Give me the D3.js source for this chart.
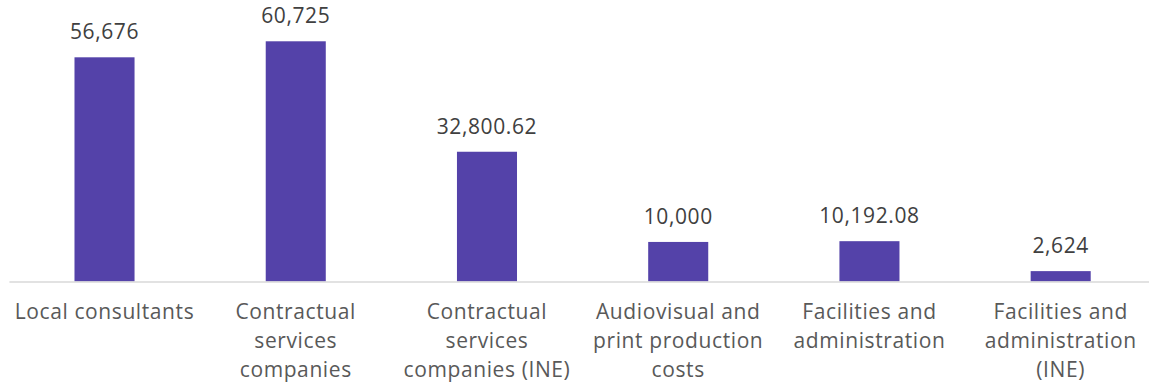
<!DOCTYPE html>
<html>
<head>
<meta charset="utf-8">
<script src="https://cdn.jsdelivr.net/npm/d3@7"></script>
<style>
  html, body { margin: 0; padding: 0; background: #ffffff; }
  svg { display: block; }
  text { font-family: "Open Sans", "Liberation Sans", sans-serif; }
</style>
</head>
<body>
<svg id="chart" width="1149" height="383"></svg>
<script>
// Budget lines and amounts
const categories = [
  "Local consultants",
  "Contractual services companies",
  "Contractual services companies (INE)",
  "Audiovisual and print production costs",
  "Facilities and administration",
  "Facilities and administration (INE)"
];
const amounts = [56676, 60725, 32800.62, 10000, 10192.08, 2624];
const amountLabels = ["56,676", "60,725", "32,800.62", "10,000", "10,192.08", "2,624"];
const yMax = 70000;

const width = 1149, height = 383;
const baseline = 281.5;
const svg = d3.select("#chart");

const x = d3.scaleBand()
  .domain(categories)
  .range([8.9, 1156.3])
  .padding(0);

const y = d3.scaleLinear()
  .domain([0, yMax])
  .range([baseline, 4.6]);

const barW = x.bandwidth() * 0.314;
const barColor = "#5442a9";

// bars
svg.append("g")
  .selectAll("rect")
  .data(amounts)
  .join("rect")
  .attr("x", (d, i) => x(categories[i]) + x.bandwidth() / 2 - barW / 2)
  .attr("y", d => y(d))
  .attr("width", barW)
  .attr("height", d => y(0) - y(d))
  .attr("fill", barColor);

// category axis line
const axis = d3.axisBottom(x).tickSize(0).tickFormat("");
const axisG = svg.append("g")
  .attr("transform", `translate(0,${baseline})`)
  .call(axis);
axisG.select(".domain").attr("stroke", "#d9d9d9").attr("stroke-width", 1.5);

// value labels above bars
svg.append("g")
  .selectAll("text")
  .data(amounts)
  .join("text")
  .attr("x", (d, i) => x(categories[i]) + x.bandwidth() / 2)
  .attr("y", d => y(d) - 18)
  .attr("text-anchor", "middle")
  .attr("font-size", 21)
  .attr("letter-spacing", 0.6)
  .attr("fill", "#404040")
  .text((d, i) => amountLabels[i]);

// wrapped category labels
const maxLine = 188;
const labelG = svg.append("g");
categories.forEach(cat => {
  const t = labelG.append("text")
    .attr("x", x(cat) + x.bandwidth() / 2)
    .attr("y", 318.8)
    .attr("text-anchor", "middle")
    .attr("font-size", 21)
    .attr("letter-spacing", 0.6)
    .attr("fill", "#595959");
  const words = cat.split(" ");
  let line = [];
  let lineNo = 0;
  let tspan = t.append("tspan").attr("x", x(cat) + x.bandwidth() / 2).attr("dy", 0);
  words.forEach(w => {
    line.push(w);
    tspan.text(line.join(" "));
    if (tspan.node().getComputedTextLength() > maxLine && line.length > 1) {
      line.pop();
      tspan.text(line.join(" "));
      line = [w];
      lineNo++;
      tspan = t.append("tspan")
        .attr("x", x(cat) + x.bandwidth() / 2)
        .attr("dy", 28.9)
        .text(w);
    }
  });
});
</script>
</body>
</html>
